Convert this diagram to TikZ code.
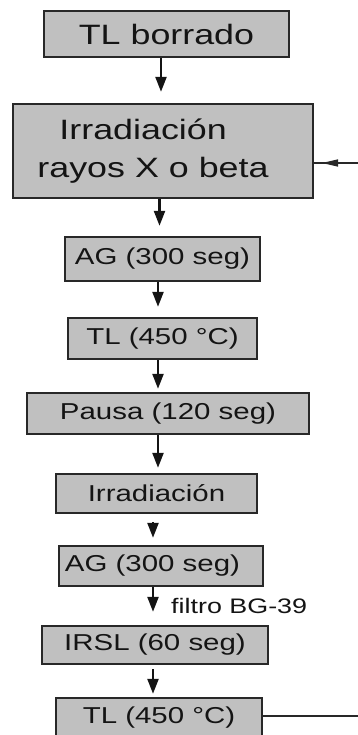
\documentclass[tikz,border=0pt]{standalone}
\usepackage{fontspec}
\setmainfont[FakeStretch=1.28]{Liberation Sans}
\usetikzlibrary{arrows.meta}
\definecolor{boxfill}{RGB}{192,192,192}
\definecolor{edge}{RGB}{40,40,40}
\definecolor{ink}{RGB}{20,20,20}
\begin{document}
\begin{tikzpicture}[x=1pt,y=-1pt,
  stepbox/.style={draw=edge,fill=boxfill,line width=2.4pt,inner sep=0pt,
    text=ink,minimum width=#1},
  bigtext/.style={font=\fontsize{28}{38}\selectfont},
  midtext/.style={font=\fontsize{23}{29}\selectfont},
  flow/.style={draw=ink,line width=2.4pt,
    -{Triangle[length=15pt,width=11pt]}},
  feedline/.style={draw=edge,line width=1.4pt}]
\useasboundingbox (0,0) rectangle (358,735);
\clip (0,0) rectangle (358,735);

% process steps
\node[stepbox=245pt,minimum height=46pt,bigtext] (b1) at (166.5,34) {TL borrado};
\node[stepbox=300pt,minimum height=94pt,bigtext,align=left] (b2) at (163,151)
  {\hspace*{2pt}Irradiación\\\hspace*{-20pt}rayos X o beta};
\node[stepbox=195pt,minimum height=44pt,midtext] (b3) at (162.5,259) {AG (300 seg)};
\node[stepbox=189pt,minimum height=41pt,midtext] (b4) at (162.5,338.5) {TL (450 °C)};
\node[stepbox=282pt,minimum height=41pt,midtext] (b5) at (168,413.5) {Pausa (120 seg)};
\node[stepbox=201pt,minimum height=39pt,midtext] (b6) at (156.5,493.5) {Irradiación};
\node[stepbox=204pt,minimum height=40pt,midtext] (b7) at (161,566) {\hspace*{-17pt}AG (300 seg)};
\node[stepbox=226pt,minimum height=38pt,midtext] (b8) at (155,645) {IRSL (60 seg)};
\node[stepbox=206pt,minimum height=40pt,midtext] (b9) at (159,718) {TL (450 °C)};

% x positions of the downward arrows
\coordinate (a1) at (161,0);
\coordinate (a2) at (159.5,0);
\coordinate (a3) at (158,0);
\coordinate (a4) at (153,0);

\draw[flow,shorten >=11pt] (b1.south -| a1) -- (b2.north -| a1);
\draw[flow,shorten >=10pt] (b2.south -| a2) -- (b3.north -| a2);
\draw[flow,shorten >=10pt] (b3.south -| a3) -- (b4.north -| a3);
\draw[flow,shorten >=3pt]  (b4.south -| a3) -- (b5.north -| a3);
\draw[flow,shorten >=5pt]  (b5.south -| a3) -- (b6.north -| a3);
\draw[flow,shorten <=8pt,shorten >=7pt] (b6.south -| a4) -- (b7.north -| a4);
\draw[flow,shorten >=13pt] (b7.south -| a4) -- (b8.north -| a4);
\draw[flow,shorten <=4pt,shorten >=3pt] (b8.south -| a4) -- (b9.north -| a4);

\node[anchor=base west,text=ink,inner sep=0pt,font=\fontsize{21}{25}\selectfont]
  (filter) at (171,613) {filtro BG-39};

% return loop: incoming line on the irradiation step, outgoing line from the last TL
\coordinate (feedin) at (358,163);
\coordinate (feedout) at (358,716);
\draw[feedline] (feedin) -- (b2.east |- feedin);
\draw[feedline,-{Triangle[length=16pt,width=7pt]}] (feedin) -- ++(-36,0);
\draw[feedline] (b9.east |- feedout) -- (feedout);
\end{tikzpicture}
\end{document}
